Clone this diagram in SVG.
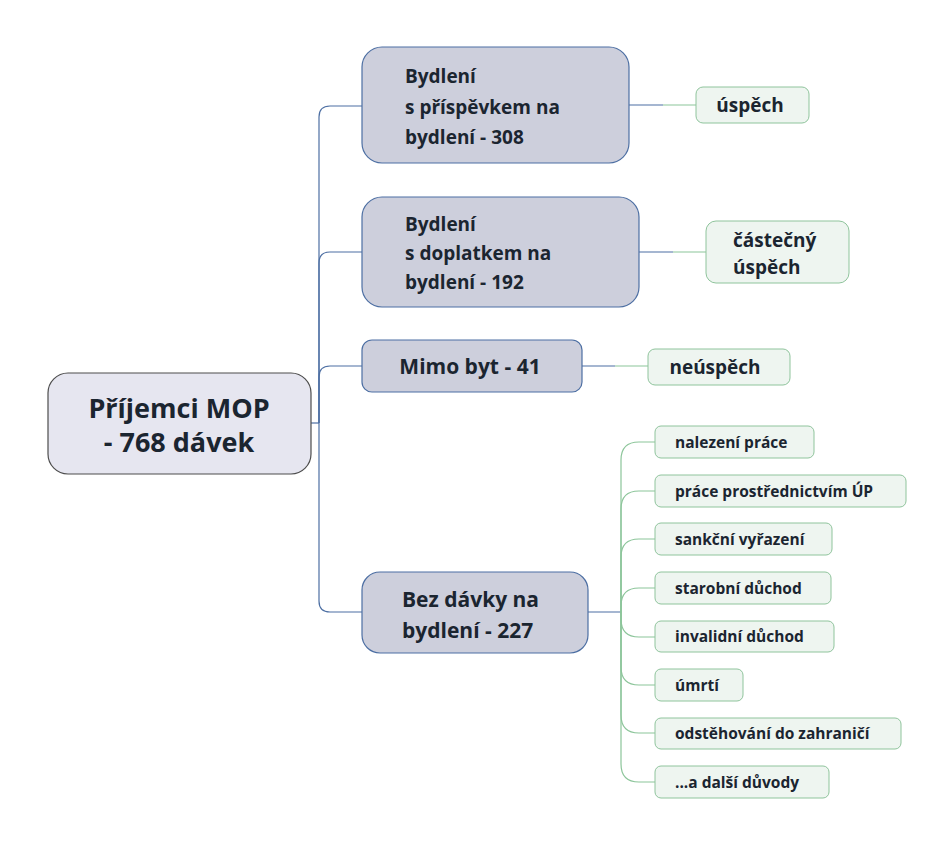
<svg xmlns="http://www.w3.org/2000/svg" width="951" height="846" viewBox="0 0 951 846">
<style>
text{font-family:"Open Sans","Noto Sans","DejaVu Sans",sans-serif;font-weight:700;fill:#1b2530}
.root{fill:#e6e6f0;stroke:#4d4d4d;stroke-width:1.2}
.main{fill:#cdcfdc;stroke:#4d6fa3;stroke-width:1.2}
.leaf{fill:#eef5f0;stroke:#8fc49c;stroke-width:1}
.rt{font-size:27px}
.mt{font-size:19px}
.mb{font-size:21px}
.lt{font-size:19px}
.st{font-size:15.5px}
.bl{fill:none;stroke:#4d6fa3;stroke-width:1.2}
.gl{fill:none;stroke:#8cc59a;stroke-width:1.2}
</style>
<rect width="951" height="846" fill="#ffffff"/>
<g id="connectors">
<path class="bl" d="M311 423 H319"/>
<path class="bl" d="M319 423 V117 Q319 106 330 106 H362"/>
<path class="bl" d="M319 423 V263 Q319 252 330 252 H362"/>
<path class="bl" d="M319 423 V377 Q319 366 330 366 H362"/>
<path class="bl" d="M319 423 V601 Q319 612 330 612 H362"/>
<path class="bl" d="M629 105 H663"/><path class="gl" d="M663 105 H696"/>
<path class="bl" d="M639 252 H673"/><path class="gl" d="M673 252 H706"/>
<path class="bl" d="M582 366 H615"/><path class="gl" d="M615 366 H648"/>
<path class="bl" d="M588 612 H621"/>
<path class="gl" d="M621 612 V460 Q621 442 639 442 H655"/>
<path class="gl" d="M621 612 V509 Q621 491 639 491 H655"/>
<path class="gl" d="M621 612 V557 Q621 539 639 539 H655"/>
<path class="gl" d="M621 612 V606 Q621 588 639 588 H655"/>
<path class="gl" d="M621 612 V619 Q621 637 639 637 H655"/>
<path class="gl" d="M621 612 V667 Q621 685 639 685 H655"/>
<path class="gl" d="M621 612 V715 Q621 733 639 733 H655"/>
<path class="gl" d="M621 612 V764 Q621 782 639 782 H655"/>
</g>
<g id="root">
<rect class="root" x="48" y="373" width="263" height="101" rx="20"/>
<text class="rt" x="179" y="418" text-anchor="middle">Příjemci MOP</text>
<text class="rt" x="179" y="452" text-anchor="middle">- 768 dávek</text>
</g>
<g id="n1">
<rect class="main" x="362" y="47" width="267" height="116" rx="20"/>
<text class="mt" x="405" y="83">Bydlení</text>
<text class="mt" x="405" y="114">s příspěvkem na</text>
<text class="mt" x="405" y="144">bydlení - 308</text>
</g>
<g id="n2">
<rect class="main" x="362" y="197" width="277" height="110" rx="20"/>
<text class="mt" x="405" y="231">Bydlení</text>
<text class="mt" x="405" y="260">s doplatkem na</text>
<text class="mt" x="405" y="289">bydlení - 192</text>
</g>
<g id="n3">
<rect class="main" x="362" y="340" width="220" height="52" rx="10"/>
<text class="mb" x="470" y="374" text-anchor="middle">Mimo byt - 41</text>
</g>
<g id="n4">
<rect class="main" x="362" y="572" width="226" height="81" rx="18"/>
<text class="mb" x="402" y="607">Bez dávky na</text>
<text class="mb" x="402" y="638">bydlení - 227</text>
</g>
<g id="l1">
<rect class="leaf" x="696" y="87" width="113" height="36" rx="7"/>
<text class="lt" x="750" y="112" text-anchor="middle">úspěch</text>
</g>
<g id="l2">
<rect class="leaf" x="706" y="221" width="143" height="62" rx="10"/>
<text class="lt" x="733" y="247">částečný</text>
<text class="lt" x="733" y="274">úspěch</text>
</g>
<g id="l3">
<rect class="leaf" x="648" y="349" width="142" height="36" rx="7"/>
<text class="lt" x="715" y="374" text-anchor="middle">neúspěch</text>
</g>
<g id="c1"><rect class="leaf" x="655" y="426" width="159" height="32" rx="6"/><text class="st" x="675" y="448">nalezení práce</text></g>
<g id="c2"><rect class="leaf" x="655" y="475" width="251" height="32" rx="6"/><text class="st" x="675" y="497">práce prostřednictvím ÚP</text></g>
<g id="c3"><rect class="leaf" x="655" y="523" width="177" height="32" rx="6"/><text class="st" x="675" y="545">sankční vyřazení</text></g>
<g id="c4"><rect class="leaf" x="655" y="572" width="176" height="32" rx="6"/><text class="st" x="675" y="594">starobní důchod</text></g>
<g id="c5"><rect class="leaf" x="655" y="621" width="179" height="31" rx="6"/><text class="st" x="675" y="642">invalidní důchod</text></g>
<g id="c6"><rect class="leaf" x="655" y="669" width="88" height="32" rx="6"/><text class="st" x="675" y="691">úmrtí</text></g>
<g id="c7"><rect class="leaf" x="655" y="718" width="246" height="31" rx="6"/><text class="st" x="675" y="739">odstěhování do zahraničí</text></g>
<g id="c8"><rect class="leaf" x="655" y="766" width="174" height="32" rx="6"/><text class="st" x="675" y="788">...a další důvody</text></g>
</svg>
